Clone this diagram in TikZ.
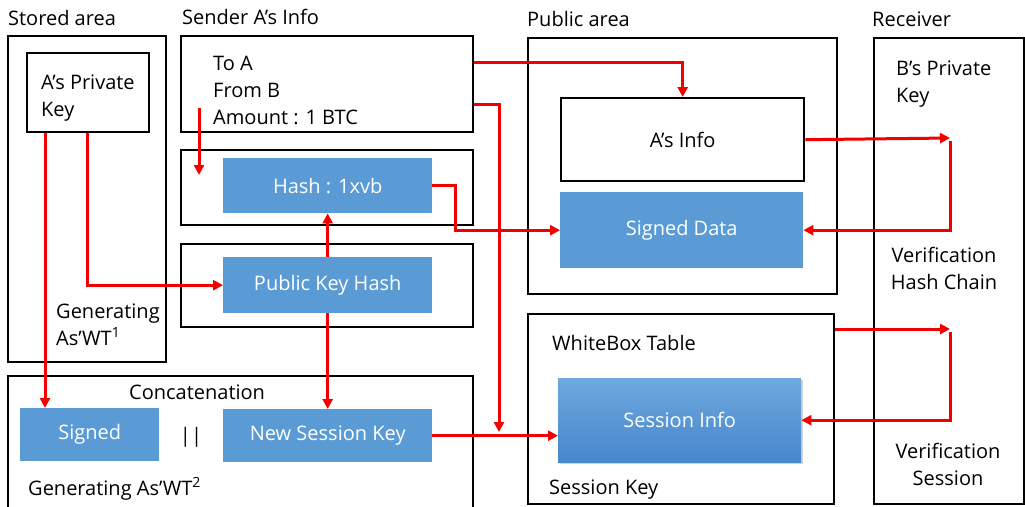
\documentclass[tikz,border=0pt]{standalone}
\usepackage{fontspec}
\setmainfont{Open Sans}
\usetikzlibrary{arrows.meta,shadows}

\definecolor{boxblue}{HTML}{5B9BD5}
\definecolor{sitop}{HTML}{6EA9DF}
\definecolor{sibot}{HTML}{4686CB}
\definecolor{linkred}{HTML}{F20000}

\tikzset{
  area/.style={draw=black, line width=2.4pt, fill=none, inner sep=0pt, anchor=north west},
  plain/.style={draw=black, line width=2.4pt, fill=white, inner sep=0pt, anchor=north west},
  blue/.style={fill=boxblue, draw=none, text=white, inner sep=0pt, anchor=north west},
  lbl/.style={inner sep=0pt, text=black},
  arr/.style={draw=linkred, line width=3pt, -{Triangle[length=10pt,width=10pt]}},
}

\begin{document}
\begin{tikzpicture}[x=1pt, y=-1pt, font=\fontsize{20}{27}\selectfont]
\useasboundingbox (0,0) rectangle (1025,506);
\clip (0,0) rectangle (1025,506);
\fill[white] (0,0) rectangle (1025,506);

% outer containers
\node[area, minimum width=158pt, minimum height=326pt] (stored) at (7,35) {};
\node[area, minimum width=292pt, minimum height=96pt] (sender) at (180,35) {};
\node[area, minimum width=292pt, minimum height=75pt] (hashbox) at (180,149) {};
\node[area, minimum width=292pt, minimum height=83pt] (pkbox) at (180,243) {};
\node[area, minimum width=465pt, minimum height=140pt] (concat) at (7,375) {};
\node[area, minimum width=309pt, minimum height=256pt] (public) at (527,37) {};
\node[area, minimum width=306pt, minimum height=190pt] (whitebox) at (527,313) {};
\node[area, minimum width=150pt, minimum height=466pt] (receiver) at (873,37) {};

% inner boxes
\node[plain, minimum width=122pt, minimum height=79pt] (privkey) at (26,52) {};
\node[plain, minimum width=243pt, minimum height=83pt] (ainfo) at (560,97) {A’s Info};
\node[blue, minimum width=243pt, minimum height=76pt] (signeddata) at (560,192) {Signed Data};
\node[blue, minimum width=209pt, minimum height=55pt] (hash) at (223,158) {Hash : 1xvb};
\node[blue, minimum width=209pt, minimum height=56pt] (pkh) at (223,257) {Public Key Hash};
\node[blue, minimum width=139pt, minimum height=53pt] (signed) at (20,408) {Signed};
\node[blue, minimum width=209pt, minimum height=53pt] (nsk) at (223,409) {New Session Key};
\node[blue, top color=sitop, bottom color=sibot, minimum width=243pt, minimum height=84pt,
      drop shadow={opacity=0.35, shadow xshift=1.5pt, shadow yshift=-2pt}] (sessinfo) at (558,378) {Session Info};

% captions (multi-line ones are placed by the baseline of their last line)
\node[lbl, anchor=base west] (tstored) at (8,25) {Stored area};
\node[lbl, anchor=base west] (tsender) at (182,24) {Sender A’s Info};
\node[lbl, anchor=base west] (tpublic) at (527,26) {Public area};
\node[lbl, anchor=base west] (treceiver) at (872,27) {Receiver};

\node[lbl, anchor=base west, align=left] (tpriv) at (41,116) {A’s Private\\Key};
\node[lbl, anchor=base west, align=left] (ttx) at (213,124) {To A\\From B\\Amount : 1 BTC};
\node[lbl, anchor=base west, align=left] (tgen1) at (56,345) {Generating\\As’WT\textsuperscript{1}};
\node[lbl, anchor=base west] (tconcat) at (129,399) {Concatenation};
\node[lbl] (tbars) at (191,437) {||};
\node[lbl, anchor=base west] (tgen2) at (28,495) {Generating As’WT\textsuperscript{2}};
\node[lbl, anchor=base west, align=left] (tbpriv) at (896,102) {B’s Private\\Key};
\node[lbl, anchor=base, align=center] (tvhc) at (944,289) {Verification\\Hash Chain};
\node[lbl, anchor=base west] (twb) at (552,350) {WhiteBox Table};
\node[lbl, anchor=base west] (tsk) at (549,494) {Session Key};
\node[lbl, anchor=base, align=center] (tvs) at (948,485) {Verification\\Session};

% free ends of connectors
\coordinate (txa) at (199,108);
\coordinate (txb) at (199,175);
\coordinate (drop) at (499,432);
\coordinate (hbend) at (455,200);
\coordinate (v1) at (950,138);
\coordinate (v1b) at (950,141);
\coordinate (v2) at (950,329);
\coordinate (v2b) at (950,332);

% connectors
\draw[arr] (txa) -- (txb);
\draw[arr] ([yshift=-27pt]sender.north east) -| (ainfo.north);
\draw[arr] ([yshift=-69pt]sender.north east) -| (drop);
\draw[arr] (hash.east) -- (hash.east -| hbend) |- (signeddata.west);
\draw[arr] (pkh.north) -- (hash.south);
\draw[arr] (pkh.south) -- (nsk.north);
\draw[arr] ([xshift=19pt]privkey.south west) -- ([xshift=25pt]signed.north west);
\draw[arr] ([xshift=61pt]privkey.south west) |- (pkh.west);
\draw[arr] (nsk.east) -- (nsk.east -| sessinfo.west);
\draw[arr] (ainfo.east) -- (v1);
\draw[arr] (v1b) |- (signeddata.east);
\draw[arr] ([yshift=-16pt]whitebox.north east) -- (v2);
\draw[arr] (v2b) |- (sessinfo.east);
\end{tikzpicture}
\end{document}
